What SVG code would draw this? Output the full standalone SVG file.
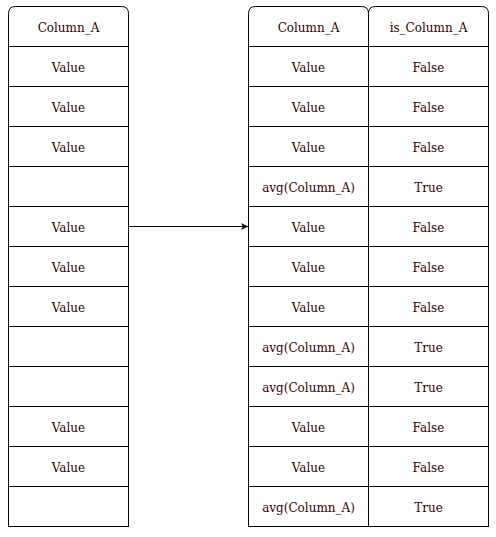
<svg xmlns="http://www.w3.org/2000/svg" width="496" height="537" viewBox="0 0 496 537">
<style>
rect.c{fill:#fff;stroke:#000;stroke-width:1}
path.h{fill:#fff;stroke:#000;stroke-width:1}
text{font-family:"DejaVu Serif",serif;font-size:12px;fill:#330000;text-anchor:middle;dominant-baseline:central}
</style>
<defs>
<marker id="ah" markerWidth="8" markerHeight="8" refX="7" refY="4" orient="auto" markerUnits="userSpaceOnUse">
<path d="M0,0.5 L7,4 L0,7.5 L1.8,4 Z" fill="#000"/>
</marker>
</defs>
<g id="left">
<g id="left-header"><path class="h" d="M8.5,46.5 V13.5 Q8.5,6.5 15.5,6.5 H121.5 Q128.5,6.5 128.5,13.5 V46.5 Z"/><text x="68.5" y="27.5">Column_A</text></g>
<g id="l1"><rect class="c" x="8.5" y="46.5" width="120" height="40"/><text x="68.5" y="67.5">Value</text></g>
<g id="l2"><rect class="c" x="8.5" y="86.5" width="120" height="40"/><text x="68.5" y="107.5">Value</text></g>
<g id="l3"><rect class="c" x="8.5" y="126.5" width="120" height="40"/><text x="68.5" y="147.5">Value</text></g>
<g id="l4"><rect class="c" x="8.5" y="166.5" width="120" height="40"/></g>
<g id="l5"><rect class="c" x="8.5" y="206.5" width="120" height="40"/><text x="68.5" y="227.5">Value</text></g>
<g id="l6"><rect class="c" x="8.5" y="246.5" width="120" height="40"/><text x="68.5" y="267.5">Value</text></g>
<g id="l7"><rect class="c" x="8.5" y="286.5" width="120" height="40"/><text x="68.5" y="307.5">Value</text></g>
<g id="l8"><rect class="c" x="8.5" y="326.5" width="120" height="40"/></g>
<g id="l9"><rect class="c" x="8.5" y="366.5" width="120" height="40"/></g>
<g id="l10"><rect class="c" x="8.5" y="406.5" width="120" height="40"/><text x="68.5" y="427.5">Value</text></g>
<g id="l11"><rect class="c" x="8.5" y="446.5" width="120" height="40"/><text x="68.5" y="467.5">Value</text></g>
<g id="l12"><rect class="c" x="8.5" y="486.5" width="120" height="40"/></g>
</g>
<g id="right">
<g id="r-header-a"><path class="h" d="M248.5,46.5 V13.5 Q248.5,6.5 255.5,6.5 H361.5 Q368.5,6.5 368.5,13.5 V46.5 Z"/><text x="308.5" y="27.5">Column_A</text></g>
<g id="r-header-b"><path class="h" d="M368.5,46.5 V13.5 Q368.5,6.5 375.5,6.5 H481.5 Q488.5,6.5 488.5,13.5 V46.5 Z"/><text x="428.5" y="27.5">is_Column_A</text></g>
<g id="ra1"><rect class="c" x="248.5" y="46.5" width="120" height="40"/><text x="308.5" y="67.5">Value</text></g>
<g id="rb1"><rect class="c" x="368.5" y="46.5" width="120" height="40"/><text x="428.5" y="67.5">False</text></g>
<g id="ra2"><rect class="c" x="248.5" y="86.5" width="120" height="40"/><text x="308.5" y="107.5">Value</text></g>
<g id="rb2"><rect class="c" x="368.5" y="86.5" width="120" height="40"/><text x="428.5" y="107.5">False</text></g>
<g id="ra3"><rect class="c" x="248.5" y="126.5" width="120" height="40"/><text x="308.5" y="147.5">Value</text></g>
<g id="rb3"><rect class="c" x="368.5" y="126.5" width="120" height="40"/><text x="428.5" y="147.5">False</text></g>
<g id="ra4"><rect class="c" x="248.5" y="166.5" width="120" height="40"/><text x="308.5" y="187.5">avg(Column_A)</text></g>
<g id="rb4"><rect class="c" x="368.5" y="166.5" width="120" height="40"/><text x="428.5" y="187.5">True</text></g>
<g id="ra5"><rect class="c" x="248.5" y="206.5" width="120" height="40"/><text x="308.5" y="227.5">Value</text></g>
<g id="rb5"><rect class="c" x="368.5" y="206.5" width="120" height="40"/><text x="428.5" y="227.5">False</text></g>
<g id="ra6"><rect class="c" x="248.5" y="246.5" width="120" height="40"/><text x="308.5" y="267.5">Value</text></g>
<g id="rb6"><rect class="c" x="368.5" y="246.5" width="120" height="40"/><text x="428.5" y="267.5">False</text></g>
<g id="ra7"><rect class="c" x="248.5" y="286.5" width="120" height="40"/><text x="308.5" y="307.5">Value</text></g>
<g id="rb7"><rect class="c" x="368.5" y="286.5" width="120" height="40"/><text x="428.5" y="307.5">False</text></g>
<g id="ra8"><rect class="c" x="248.5" y="326.5" width="120" height="40"/><text x="308.5" y="347.5">avg(Column_A)</text></g>
<g id="rb8"><rect class="c" x="368.5" y="326.5" width="120" height="40"/><text x="428.5" y="347.5">True</text></g>
<g id="ra9"><rect class="c" x="248.5" y="366.5" width="120" height="40"/><text x="308.5" y="387.5">avg(Column_A)</text></g>
<g id="rb9"><rect class="c" x="368.5" y="366.5" width="120" height="40"/><text x="428.5" y="387.5">True</text></g>
<g id="ra10"><rect class="c" x="248.5" y="406.5" width="120" height="40"/><text x="308.5" y="427.5">Value</text></g>
<g id="rb10"><rect class="c" x="368.5" y="406.5" width="120" height="40"/><text x="428.5" y="427.5">False</text></g>
<g id="ra11"><rect class="c" x="248.5" y="446.5" width="120" height="40"/><text x="308.5" y="467.5">Value</text></g>
<g id="rb11"><rect class="c" x="368.5" y="446.5" width="120" height="40"/><text x="428.5" y="467.5">False</text></g>
<g id="ra12"><rect class="c" x="248.5" y="486.5" width="120" height="40"/><text x="308.5" y="507.5">avg(Column_A)</text></g>
<g id="rb12"><rect class="c" x="368.5" y="486.5" width="120" height="40"/><text x="428.5" y="507.5">True</text></g>
</g>
<g id="connectors">
<line x1="128.5" y1="226.5" x2="248" y2="226.5" stroke="#000" stroke-width="1" marker-end="url(#ah)"/>
</g>
</svg>
